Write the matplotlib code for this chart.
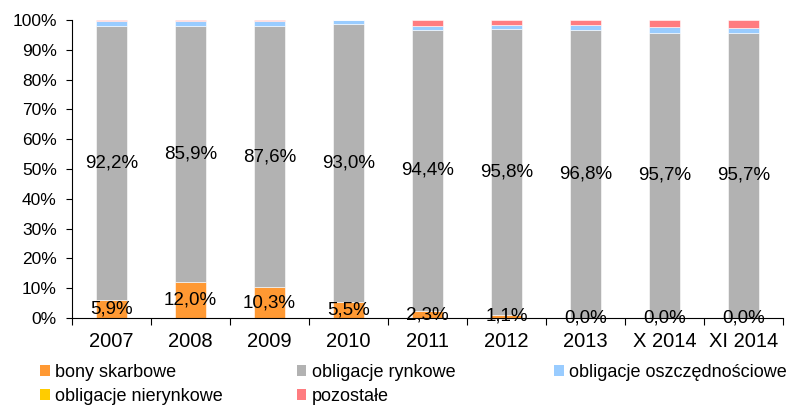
import matplotlib.pyplot as plt
import numpy as np

plt.rcParams["font.family"] = ["Liberation Sans", "DejaVu Sans"]

categories = ["2007", "2008", "2009", "2010", "2011", "2012", "2013", "X 2014", "XI 2014"]
bony = [5.9, 12.0, 10.3, 5.5, 2.3, 1.1, 0.0, 0.0, 0.0]
rynkowe = [92.2, 85.9, 87.6, 93.0, 94.4, 95.8, 96.8, 95.7, 95.7]
oszczednosciowe = [1.6, 1.6, 1.8, 1.5, 1.3, 1.4, 1.5, 1.8, 1.7]
nierynkowe = [0.0, 0.0, 0.0, 0.0, 0.0, 0.0, 0.0, 0.0, 0.0]
pozostale = [0.3, 0.5, 0.3, 0.0, 2.0, 1.7, 1.7, 2.5, 2.6]

series = [
    ("bony skarbowe", bony, "#FF9933"),
    ("obligacje rynkowe", rynkowe, "#B2B2B2"),
    ("obligacje oszczędnościowe", oszczednosciowe, "#99CCFF"),
    ("obligacje nierynkowe", nierynkowe, "#FFCC00"),
    ("pozostałe", pozostale, "#FF7C80"),
]

fig = plt.figure(figsize=(7.95, 4.05), dpi=100)
ax = fig.add_axes([0.0906, 0.2148, 0.8944, 0.7358])

x = np.arange(len(categories))
bottom = np.zeros(len(categories))
handles = []
for name, vals, col in series:
    vals = np.array(vals)
    b = ax.bar(x, vals, 0.4, bottom=bottom, color=col, edgecolor="white",
               linewidth=0.4, label=name)
    handles.append(b)
    if name in ("bony skarbowe", "obligacje rynkowe"):
        for xi, v, bt in zip(x, vals, bottom):
            ax.text(xi, bt + v / 2, f"{v:.1f}%".replace(".", ","),
                    ha="center", va="center", fontsize=13.5)
    bottom += vals

ax.set_xlim(-0.5, len(categories) - 0.5)
ax.set_ylim(0, 100)
ax.set_yticks(np.arange(0, 101, 10))
ax.set_yticklabels([f"{v}%" for v in range(0, 101, 10)], fontsize=12.5)
ax.set_xticks(x)
ax.set_xticklabels(categories, fontsize=14.5)
ax.set_xticks(np.arange(-0.5, len(categories), 1), minor=True)
ax.tick_params(axis="x", which="major", length=0, pad=10)
ax.tick_params(axis="x", which="minor", length=5, width=0.8, direction="out")
ax.tick_params(axis="y", length=4, width=0.8, direction="out", pad=7)
for s in ("top", "right"):
    ax.spines[s].set_visible(False)
for s in ("left", "bottom"):
    ax.spines[s].set_linewidth(0.8)

# legend laid out in rows, three columns
cols = [[0, 3], [1, 4], [2]]
xpos = [0.050, 0.373, 0.697]
for idx, xp in zip(cols, xpos):
    leg = fig.legend([handles[i] for i in idx], [series[i][0] for i in idx],
                     loc="upper left", bbox_to_anchor=(xp, 0.102), frameon=False,
                     fontsize=13, handlelength=0.55, handleheight=0.55,
                     handletextpad=0.3, labelspacing=0.42, borderpad=0,
                     borderaxespad=0)
    for h in leg.legend_handles:
        h.set_edgecolor("none")

fig.savefig("out.png", dpi=100)
